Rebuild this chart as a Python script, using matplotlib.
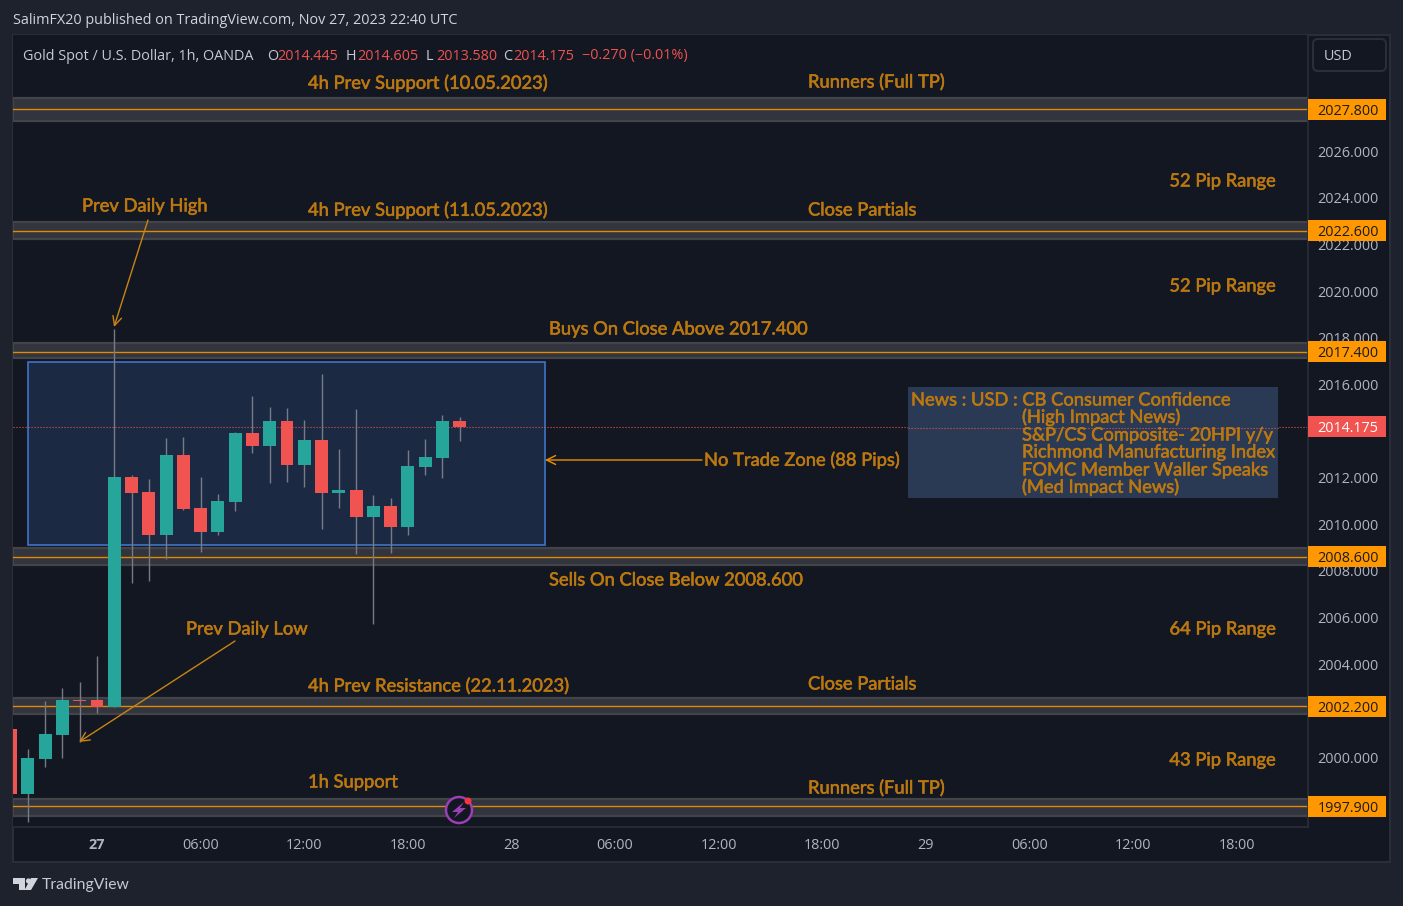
import matplotlib
matplotlib.use("Agg")
import matplotlib.pyplot as plt
import matplotlib.patheffects as pe
from matplotlib.patches import Rectangle, FancyBboxPatch, Circle, Polygon

# ---------- data ----------
hours  = list(range(-5, 22))
opens  = [2001.20,1998.42,1999.93,2000.94,2002.47,2002.44,2002.15,2012.03,2011.39,2009.55,2012.98,2010.71,2009.68,2010.96,2013.92,2013.36,2014.43,2012.55,2013.62,2011.35,2011.48,2010.32,2010.79,2009.89,2012.46,2012.85,2014.445]
highs  = [2001.30,2000.34,2002.40,2002.96,2003.21,2004.33,2018.37,2012.12,2011.95,2013.70,2013.75,2012.03,2011.31,2013.96,2015.50,2015.03,2014.99,2014.48,2016.45,2013.23,2014.95,2011.26,2011.13,2013.19,2013.66,2014.69,2014.605]
lows   = [1998.20,1997.23,1999.58,1999.97,2000.66,2001.90,2002.15,2007.46,2007.58,2008.49,2010.62,2008.82,2009.55,2010.58,2013.06,2011.78,2011.82,2011.61,2009.81,2010.71,2008.74,2005.74,2008.78,2009.55,2012.12,2011.99,2013.58]
closes = [1998.43,1999.96,2000.99,2002.48,2002.42,2002.15,2012.03,2011.35,2009.55,2012.98,2010.66,2009.68,2011.01,2013.92,2013.36,2014.43,2012.55,2013.62,2011.35,2011.48,2010.32,2010.79,2009.89,2012.51,2012.89,2014.43,2014.175]

level_prices = [2027.8, 2022.6, 2017.4, 2008.6, 2002.2, 1997.9]
level_labels = ["2027.800", "2022.600", "2017.400", "2008.600", "2002.200", "1997.900"]
band_tops    = [2028.28, 2022.97, 2017.78, 2008.98, 2002.55, 1998.21]
band_bottoms = [2027.32, 2022.23, 2017.14, 2008.25, 2001.86, 1997.48]

last_price = 2014.175
y_ticks = list(range(2000, 2028, 2))
x_ticks = [0, 6, 12, 18, 24, 30, 36, 42, 48, 54, 60, 66]
x_labels = ["27", "06:00", "12:00", "18:00", "28", "06:00", "12:00", "18:00", "29", "06:00", "12:00", "18:00"]
zone_hours = (-4.02, 25.96)
zone_prices = (2009.12, 2016.97)

annotations = [
    ("4h Prev Support (10.05.2023)", 308, 82, "left"),
    ("Runners (Full TP)", 808, 81, "left"),
    ("52 Pip Range", 1276, 180, "right"),
    ("Prev Daily High", 82, 205, "left"),
    ("4h Prev Support (11.05.2023)", 308, 209, "left"),
    ("Close Partials", 808, 209, "left"),
    ("52 Pip Range", 1276, 285, "right"),
    ("Buys On Close Above 2017.400", 549, 328, "left"),
    ("No Trade Zone (88 Pips)", 704, 459, "left"),
    ("Sells On Close Below 2008.600", 549, 579, "left"),
    ("64 Pip Range", 1276, 628, "right"),
    ("Prev Daily Low", 186, 628, "left"),
    ("4h Prev Resistance (22.11.2023)", 308, 685, "left"),
    ("Close Partials", 808, 683, "left"),
    ("43 Pip Range", 1276, 759, "right"),
    ("1h Support", 308, 781, "left"),
    ("Runners (Full TP)", 808, 787, "left"),
]
news_lines = [
    ("News : USD : CB Consumer Confidence", 911, 399),
    ("(High Impact News)", 1022, 416),
    ("S&P/CS Composite- 20HPI y/y", 1022, 434),
    ("Richmond Manufacturing Index", 1022, 451),
    ("FOMC Member Waller Speaks", 1022, 469),
    ("(Med Impact News)", 1022, 486),
]
header_parts = [
    ("Gold Spot / U.S. Dollar, 1h, OANDA", 23, "#c8cad2"),
    ("O", 267, "#c8cad2"), ("2014.445", 277, "#ef5350"),
    ("H", 346, "#c8cad2"), ("2014.605", 357, "#ef5350"),
    ("L", 426, "#c8cad2"), ("2013.580", 436, "#ef5350"),
    ("C", 503, "#c8cad2"), ("2014.175", 513, "#ef5350"),
    ("\u22120.270 (\u22120.01%)", 582, "#ef5350"),
]

# ---------- style ----------
W, H = 1403, 906
BG, PANE = "#1e222d", "#131722"
GRID = "#2a2e39"
UP, DOWN = "#26a69a", "#f05350"
WICK = "#787b86"
ORANGE = "#ff9800"
TXT = "#bb7810"
ANN_FONT = ["Lato", "DejaVu Sans"]
UI_FONT = ["Open Sans", "DejaVu Sans"]
ANN_SIZE = 13.2
UI_SIZE = 10.4
HEAVY = [pe.withStroke(linewidth=0.4, foreground=TXT)]

fig = plt.figure(figsize=(W / 100, H / 100), dpi=100, facecolor=BG)

# framed chart area
bgax = fig.add_axes([0, 0, 1, 1], zorder=0)
bgax.set_xlim(0, W); bgax.set_ylim(H, 0); bgax.axis("off")
bgax.add_patch(Rectangle((12.5, 34.5), 1377, 827, fc=PANE, ec=GRID, lw=1.5))

# main price chart
L, R, T, B = 13, 1308, 35, 827
ax = fig.add_axes([L / W, 1 - B / H, (R - L) / W, (B - T) / H], zorder=1)
ax.set_facecolor(PANE)
ax.set_xlim(-4.864, 70.12)
ax.set_ylim(1997.01, 2030.99)
for s in ("left", "top"):
    ax.spines[s].set_visible(False)
for s in ("right", "bottom"):
    ax.spines[s].set_color(GRID)
    ax.spines[s].set_linewidth(1.2)
ax.yaxis.tick_right()
ax.set_yticks(y_ticks, [f"{v:.3f}" for v in y_ticks], family=UI_FONT, fontsize=UI_SIZE, color="#b2b5be")
ax.set_xticks(x_ticks, x_labels, family=UI_FONT, fontsize=UI_SIZE, color="#b2b5be")
ax.tick_params(axis="both", length=0)
ax.tick_params(axis="y", pad=7)
ax.tick_params(axis="x", pad=8)
for lab in ax.get_yticklabels():
    lab.set_verticalalignment("center_baseline")
for lab, txt in zip(ax.get_xticklabels(), x_labels):
    if txt == "27":
        lab.set_fontweight("bold")

ax.add_patch(Rectangle((zone_hours[0], zone_prices[0]), zone_hours[1] - zone_hours[0],
                       zone_prices[1] - zone_prices[0], fc="#1b2942", ec="#3f74c8", lw=1.2, zorder=1))

for p, top, bot in zip(level_prices, band_tops, band_bottoms):
    ax.axhspan(bot, top, fc="#32353d", ec="#434447", lw=1.6, zorder=1.5)
    ax.axhline(p, color=ORANGE, lw=1.0, alpha=0.85, zorder=1.6)

ax.axhline(last_price, color="#ef5350", lw=0.8, ls=(0, (1, 1.7)), zorder=1.7)

for h, o, hi, lo, c in zip(hours, opens, highs, lows, closes):
    col = UP if c >= o else DOWN
    ax.vlines(h, lo, hi, color=WICK, lw=1.0, zorder=2)
    ax.bar(h, abs(c - o), bottom=min(o, c), width=0.75, color=col, lw=0, zorder=3)

# overlay in screen pixels for drawings, labels and chrome
ov = fig.add_axes([0, 0, 1, 1], zorder=5)
ov.set_xlim(0, W); ov.set_ylim(H, 0); ov.axis("off"); ov.patch.set_alpha(0)

def ann(a, b, color, lw=1.0):
    ov.annotate("", xy=b, xytext=a,
                arrowprops=dict(arrowstyle="->,head_length=0.65,head_width=0.32", color=color, lw=lw,
                                shrinkA=0, shrinkB=0))

ann((148, 220), (114, 327), "#c98512")
ann((235, 641), (79, 742), "#c98512")
ann((702, 460), (545, 460), "#f09000")

for s, x, y, ha in annotations:
    ov.text(x, y, s, ha=ha, va="center_baseline", family=ANN_FONT, fontsize=ANN_SIZE, color=TXT, path_effects=HEAVY)

ov.add_patch(Rectangle((908, 387), 370, 111, fc="#2a3a55", ec="none"))
# dotted last price line seen through the translucent news box
ov.plot([908, 1278], [427.5, 427.5], color="#ef5350", lw=0.8, ls=(0, (1, 1.7)))
for s, x, y in news_lines:
    ov.text(x, y, s, ha="left", va="center_baseline", family=ANN_FONT, fontsize=ANN_SIZE, color=TXT, path_effects=HEAVY)

# price scale tags
for p, lab in zip(level_prices, level_labels):
    yc = H - ax.transData.transform((0, p))[1]
    ov.add_patch(Rectangle((1308, yc - 10.5), 78, 21, fc=ORANGE, ec="none"))
    ov.text(1348, yc, lab, ha="center", va="center_baseline", family=UI_FONT, fontsize=UI_SIZE, color="#1a1a1a")
yc = H - ax.transData.transform((0, last_price))[1]
ov.add_patch(Rectangle((1308, yc - 10.5), 78, 21, fc="#f05350", ec="none"))
ov.text(1348, yc, f"{last_price:.3f}", ha="center", va="center_baseline", family=UI_FONT, fontsize=UI_SIZE, color="white")

# USD button
ov.add_patch(FancyBboxPatch((1316, 42), 67, 26, boxstyle="round,pad=3,rounding_size=5", fc=PANE, ec="#2a2e39", lw=1.5))
ov.text(1324, 55, "USD", ha="left", va="center_baseline", family=UI_FONT, fontsize=UI_SIZE, color="#c8cad2")

# header
ov.text(13, 19, "SalimFX20 published on TradingView.com, Nov 27, 2023 22:40 UTC", ha="left", va="center_baseline",
        family=UI_FONT, fontsize=UI_SIZE, color="#d1d4dc")
for s, x, c in header_parts:
    ov.text(x, 54, s, ha="left", va="center_baseline", family=UI_FONT, fontsize=UI_SIZE, color=c)

# event marker
ov.add_patch(Circle((459, 810), 13, fc=PANE, ec="#9b3fb5", lw=1.8))
ov.add_patch(Polygon([(464, 802), (452, 812), (458, 812), (454, 818), (466, 808), (460, 808)], fc="#9b3fb5", ec="none"))
ov.add_patch(Circle((468, 801), 3.5, fc="#f23645", ec="none"))

# logo
ov.add_patch(Polygon([(13, 878), (25, 878), (25, 890), (19, 890), (19, 884), (13, 884)], fc="#d1d4dc", ec="none"))
ov.add_patch(Circle((28.5, 881), 2.6, fc="#d1d4dc", ec="none"))
ov.add_patch(Polygon([(31, 878), (38, 878), (31, 890), (24.5, 890)], fc="#d1d4dc", ec="none"))
ov.text(42, 884, "TradingView", ha="left", va="center_baseline", family=["Lato", "DejaVu Sans"], fontsize=11.3, color="#c8cad2")

fig.savefig("out.png", dpi=100, facecolor=BG)
